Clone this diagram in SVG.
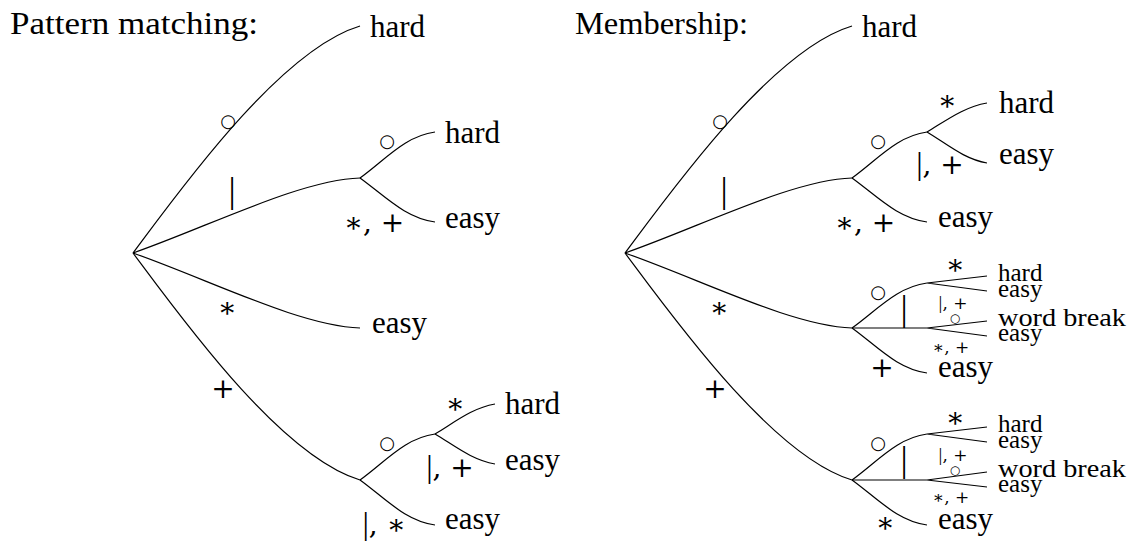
<svg xmlns="http://www.w3.org/2000/svg" width="1130" height="541" viewBox="0 0 1130 541">
<style>
.e{fill:none;stroke:#000;stroke-width:1.2}
.t{font-family:"Liberation Serif","DejaVu Serif",serif;font-size:31px;fill:#000}
.s{font-family:"Liberation Serif","DejaVu Serif",serif;font-size:25px;fill:#000}
.m{font-family:"DejaVu Serif",serif;font-size:28px;fill:#000;text-anchor:middle}
.ms{font-family:"DejaVu Serif",serif;font-size:17px;fill:#000;text-anchor:middle}
.c{font-family:"DejaVu Sans",sans-serif;font-size:18px;fill:#000;text-anchor:middle}
.cs{font-family:"DejaVu Sans",sans-serif;font-size:12px;fill:#000;text-anchor:middle}
.b{font-family:"Liberation Serif",serif;font-size:36px;fill:#000;text-anchor:middle}
.bt{font-family:"Liberation Serif",serif}
</style>
<rect width="1130" height="541" fill="#fff"/>
<text class="t" x="10" y="34" textLength="248" lengthAdjust="spacingAndGlyphs">Pattern matching:</text>
<text class="t" x="575" y="34" textLength="173" lengthAdjust="spacingAndGlyphs">Membership:</text>
<g id="connectors">
<path class="e" d="M133,253 C180,190 280,50 360,26"/>
<path class="e" d="M133,253 C210,226 300,180 360,178"/>
<path class="e" d="M133,253 C210,280 300,326 360,328"/>
<path class="e" d="M133,253 C180,316 280,456 360,480"/>
<path class="e" d="M360,178 C385,160 405,136 435,132"/>
<path class="e" d="M360,178 C385,196 405,218 435,222"/>
<path class="e" d="M360,480 C385,462 405,438 435,434"/>
<path class="e" d="M360,480 C385,498 405,521 435,525"/>
<path class="e" d="M435,434 C455,422 472,408 495,404"/>
<path class="e" d="M435,434 C455,446 472,460 495,464"/>
<path class="e" d="M625,253 C672,190 772,50 852,26"/>
<path class="e" d="M625,253 C702,226 792,180 852,178"/>
<path class="e" d="M625,253 C702,280 792,326 852,328"/>
<path class="e" d="M625,253 C672,316 772,456 852,480"/>
<path class="e" d="M852,178 C877,160 897,136 927,132"/>
<path class="e" d="M852,178 C877,196 897,218 927,222"/>
<path class="e" d="M927,132 C947,120 964,107 987,103"/>
<path class="e" d="M927,132 C947,144 964,159 987,163"/>
<path class="e" d="M852,328 C877,310 897,287 927,283"/>
<path class="e" d="M852,328 L927,328"/>
<path class="e" d="M852,328 C877,346 897,369 927,373"/>
<path class="e" d="M927,283 L987,276 M927,283 L987,291"/>
<path class="e" d="M927,328 L987,321 M927,328 L987,336"/>
<path class="e" d="M852,480 C877,462 897,438 927,434"/>
<path class="e" d="M852,480 L927,480"/>
<path class="e" d="M852,480 C877,498 897,521 927,525"/>
<path class="e" d="M927,434 L987,427 M927,434 L987,442"/>
<path class="e" d="M927,480 L987,472 M927,480 L987,487"/>
</g>
<g id="edge-labels">
<text class="c" x="228" y="127">○</text>
<text class="b" x="232" y="202">|</text>
<text class="c" x="387" y="147">○</text>
<text class="m" x="374" y="232">∗, +</text>
<text class="m" x="227" y="317">∗</text>
<text class="m" x="223" y="398">+</text>
<text class="c" x="387" y="449">○</text>
<text class="m" x="384" y="534"><tspan class="bt" font-size="32">|</tspan>, ∗</text>
<text class="m" x="455" y="413">∗</text>
<text class="m" x="450" y="477"><tspan class="bt" font-size="32">|</tspan>, +</text>

<text class="c" x="720" y="127">○</text>
<text class="b" x="724" y="202">|</text>
<text class="c" x="878" y="147">○</text>
<text class="m" x="947" y="110">∗</text>
<text class="m" x="940" y="174"><tspan class="bt" font-size="32">|</tspan>, +</text>
<text class="m" x="865" y="232">∗, +</text>
<text class="m" x="719" y="317">∗</text>
<text class="m" x="715" y="398">+</text>
<text class="c" x="878" y="298">○</text>
<text class="b" x="904" y="320">|</text>
<text class="m" x="882" y="377">+</text>
<text class="m" x="955" y="274">∗</text>
<text class="ms" x="953" y="309"><tspan class="bt" font-size="19">|</tspan>, +</text>
<text class="cs" x="955" y="322">○</text>
<text class="ms" x="951" y="353">∗, +</text>
<text class="c" x="878" y="449">○</text>
<text class="b" x="904" y="471">|</text>
<text class="m" x="885" y="532">∗</text>
<text class="m" x="955" y="427">∗</text>
<text class="ms" x="953" y="461"><tspan class="bt" font-size="19">|</tspan>, +</text>
<text class="cs" x="955" y="474">○</text>
<text class="ms" x="951" y="503">∗, +</text>
</g>
<g id="n-l-hard1"><text class="t" x="370" y="37">hard</text></g>
<g id="n-l-hard2"><text class="t" x="445" y="143">hard</text></g>
<g id="n-l-easy1"><text class="t" x="445" y="228">easy</text></g>
<g id="n-l-easy2"><text class="t" x="372" y="333">easy</text></g>
<g id="n-l-hard3"><text class="t" x="505" y="414">hard</text></g>
<g id="n-l-easy3"><text class="t" x="505" y="470">easy</text></g>
<g id="n-l-easy4"><text class="t" x="445" y="529">easy</text></g>

<g id="n-r-hard1"><text class="t" x="862" y="37">hard</text></g>
<g id="n-r-hard2"><text class="t" x="999" y="113">hard</text></g>
<g id="n-r-easy1"><text class="t" x="999" y="164">easy</text></g>
<g id="n-r-easy2"><text class="t" x="938" y="227">easy</text></g>
<g id="n-r-hard3"><text class="s" x="998" y="281">hard</text></g>
<g id="n-r-easy3"><text class="s" x="998" y="297">easy</text></g>
<g id="n-r-wb1"><text class="s" x="998" y="326" textLength="128" lengthAdjust="spacingAndGlyphs">word break</text></g>
<g id="n-r-easy4"><text class="s" x="998" y="341">easy</text></g>
<g id="n-r-easy5"><text class="t" x="938" y="377">easy</text></g>
<g id="n-r-hard4"><text class="s" x="998" y="432">hard</text></g>
<g id="n-r-easy6"><text class="s" x="998" y="448">easy</text></g>
<g id="n-r-wb2"><text class="s" x="998" y="477" textLength="128" lengthAdjust="spacingAndGlyphs">word break</text></g>
<g id="n-r-easy7"><text class="s" x="998" y="492">easy</text></g>
<g id="n-r-easy8"><text class="t" x="938" y="529">easy</text></g>
</svg>
